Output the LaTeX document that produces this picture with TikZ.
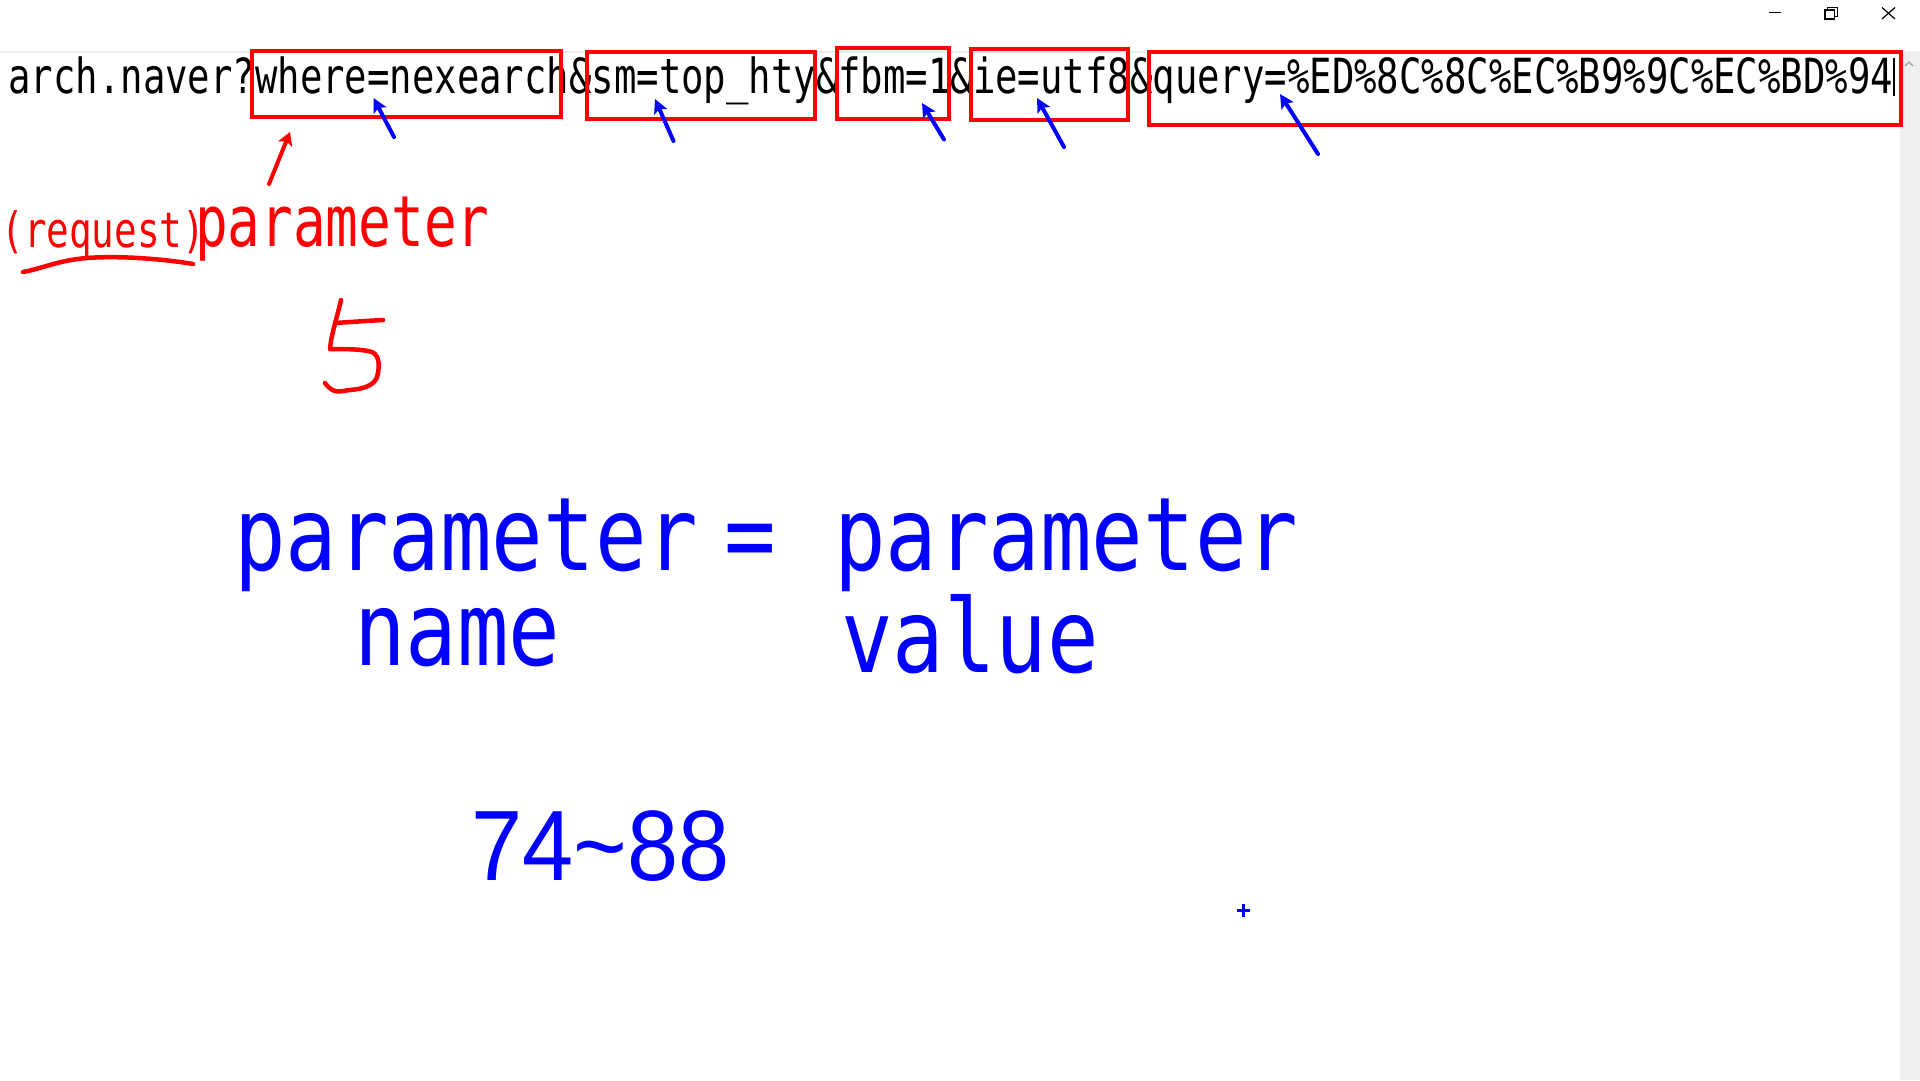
\documentclass[tikz,border=0pt]{standalone}
\usepackage{fontspec}
\usetikzlibrary{arrows.meta}
\newfontfamily\monotext[FakeStretch=0.77]{DejaVu Sans Mono}
\newfontfamily\monobig[FakeStretch=0.84]{DejaVu Sans Mono}
\newfontfamily\numfont[FakeStretch=0.92]{Liberation Sans}

\definecolor{penred}{RGB}{255,0,0}
\definecolor{penblue}{RGB}{0,0,255}
\definecolor{sepgray}{RGB}{236,236,236}
\definecolor{scrollgray}{RGB}{238,238,238}
\definecolor{glyphgray}{RGB}{160,160,160}

\begin{document}
\begin{tikzpicture}[x=1pt,y=-1pt,
  txt/.style={inner sep=0pt, outer sep=0pt, anchor=base west},
  urlfont/.style={font=\monotext\fontsize{48.4}{58}\selectfont},
  bigfont/.style={font=\monobig\fontsize{102}{120}\selectfont, text=penblue},
  redbox/.style={draw=penred, line width=4pt, inner sep=0pt, outer sep=0pt},
  bluearrow/.style={draw=penblue, line width=4pt, line cap=round,
    -{Stealth[length=14pt,width=14pt,inset=3pt]}},
  redarrow/.style={draw=penred, line width=4pt, line cap=round,
    -{Stealth[length=13pt,width=15pt,inset=3pt]}},
  redpen/.style={draw=penred, line width=4.5pt, line cap=round, line join=round},
  chromeicon/.style={draw=black, line width=1.2pt}
]
\useasboundingbox (0,0) rectangle (1920,1080);
\clip (0,0) rectangle (1920,1080);
\fill[white] (0,0) rectangle (1920,1080);

% window frame: separator, scroll bar, caption buttons
\draw[sepgray, line width=2pt] (0,52) -- (1900,52);
\fill[scrollgray] (1900,51) rectangle (1920,1080);
\draw[glyphgray, line width=1.2pt] (1905,66) -- (1909,62) -- (1913,66);
\draw[chromeicon] (1769,12.5) -- (1781,12.5);
\draw[chromeicon] (1825,10) rectangle (1834.5,19);
\draw[chromeicon] (1827.5,10) -- (1827.5,7.5) -- (1837.5,7.5) -- (1837.5,16.5) -- (1834.5,16.5);
\draw[chromeicon] (1882,7.5) -- (1895,19) (1895,7.5) -- (1882,19);

% address text with caret
\node[txt, urlfont] (url) at (8.4,93)
  {arch.naver?where=nexearch\&sm=top\_hty\&fbm=1\&ie=utf8\&query=\%ED\%8C\%8C\%EC\%B9\%9C\%EC\%BD\%94};
\draw[black, line width=1.5pt] (1894,58) -- (1894,96);

% parameter boxes
\node[redbox, minimum width=309pt, minimum height=66pt] (bwhere) at (406.5,84) {};
\node[redbox, minimum width=228pt, minimum height=67pt] (bsm) at (700.5,85) {};
\node[redbox, minimum width=112pt, minimum height=71pt] (bfbm) at (892.5,83.5) {};
\node[redbox, minimum width=157pt, minimum height=71pt] (bie) at (1049.5,84.5) {};
\node[redbox, minimum width=752pt, minimum height=73pt] (bquery) at (1524.5,88) {};

% blue pointers under each '='
\coordinate (t1) at (394,137);   \coordinate (h1) at (373.5,98);
\coordinate (t2) at (673.5,141); \coordinate (h2) at (655,99);
\coordinate (t3) at (944,139.5); \coordinate (h3) at (922,103);
\coordinate (t4) at (1064,147);  \coordinate (h4) at (1037,98);
\coordinate (t5) at (1318,154);  \coordinate (h5) at (1280,94);
\foreach \i in {1,...,5} { \draw[bluearrow] (t\i) -- (h\i); }

% red annotation
\coordinate (rt) at (269,184); \coordinate (rh) at (290,132);
\draw[redarrow] (rt) -- (rh);
\node[txt, text=penred, font=\monotext\fontsize{48.8}{58}\selectfont] (req) at (1.5,247) {(request)};
\node[txt, text=penred, font=\monotext\fontsize{70.6}{86}\selectfont] (rparam) at (195,246) {parameter};
\draw[redpen] (23,272) .. controls (45,268) and (60,259) .. (95,257.5)
  .. controls (130,256) and (170,260) .. (193,264);

% handwritten five
\draw[redpen] (341,300) .. controls (337,318) and (331,335) .. (330,349)
  .. controls (345,349) and (362,349) .. (372,352)
  .. controls (381,356) and (379,370) .. (377,377)
  .. controls (374,386) and (362,389) .. (350,390)
  .. controls (340,391) and (334,395) .. (325,383);
\draw[redpen] (335,323) .. controls (350,322) and (365,321) .. (383,320);

% parameter name = parameter value
\node[txt, bigfont] (pname) at (234,570) {parameter};
\node[inner sep=0pt, outer sep=0pt, anchor=base, bigfont] (eq) at (750.5,570) {=};
\node[txt, bigfont] (pvalue) at (834,570) {parameter};
\node[txt, bigfont] (lname) at (354,665) {name};
\node[txt, bigfont] (lvalue) at (841,672) {value};
\node[txt, text=penblue, font=\numfont\fontsize{100}{120}\selectfont] (range) at (471,880) {74\textasciitilde 88};

% blue cross mark
\draw[penblue, line width=3pt] (1236.5,910) -- (1250,910) (1243,903.5) -- (1243,916.5);
\end{tikzpicture}
\end{document}
